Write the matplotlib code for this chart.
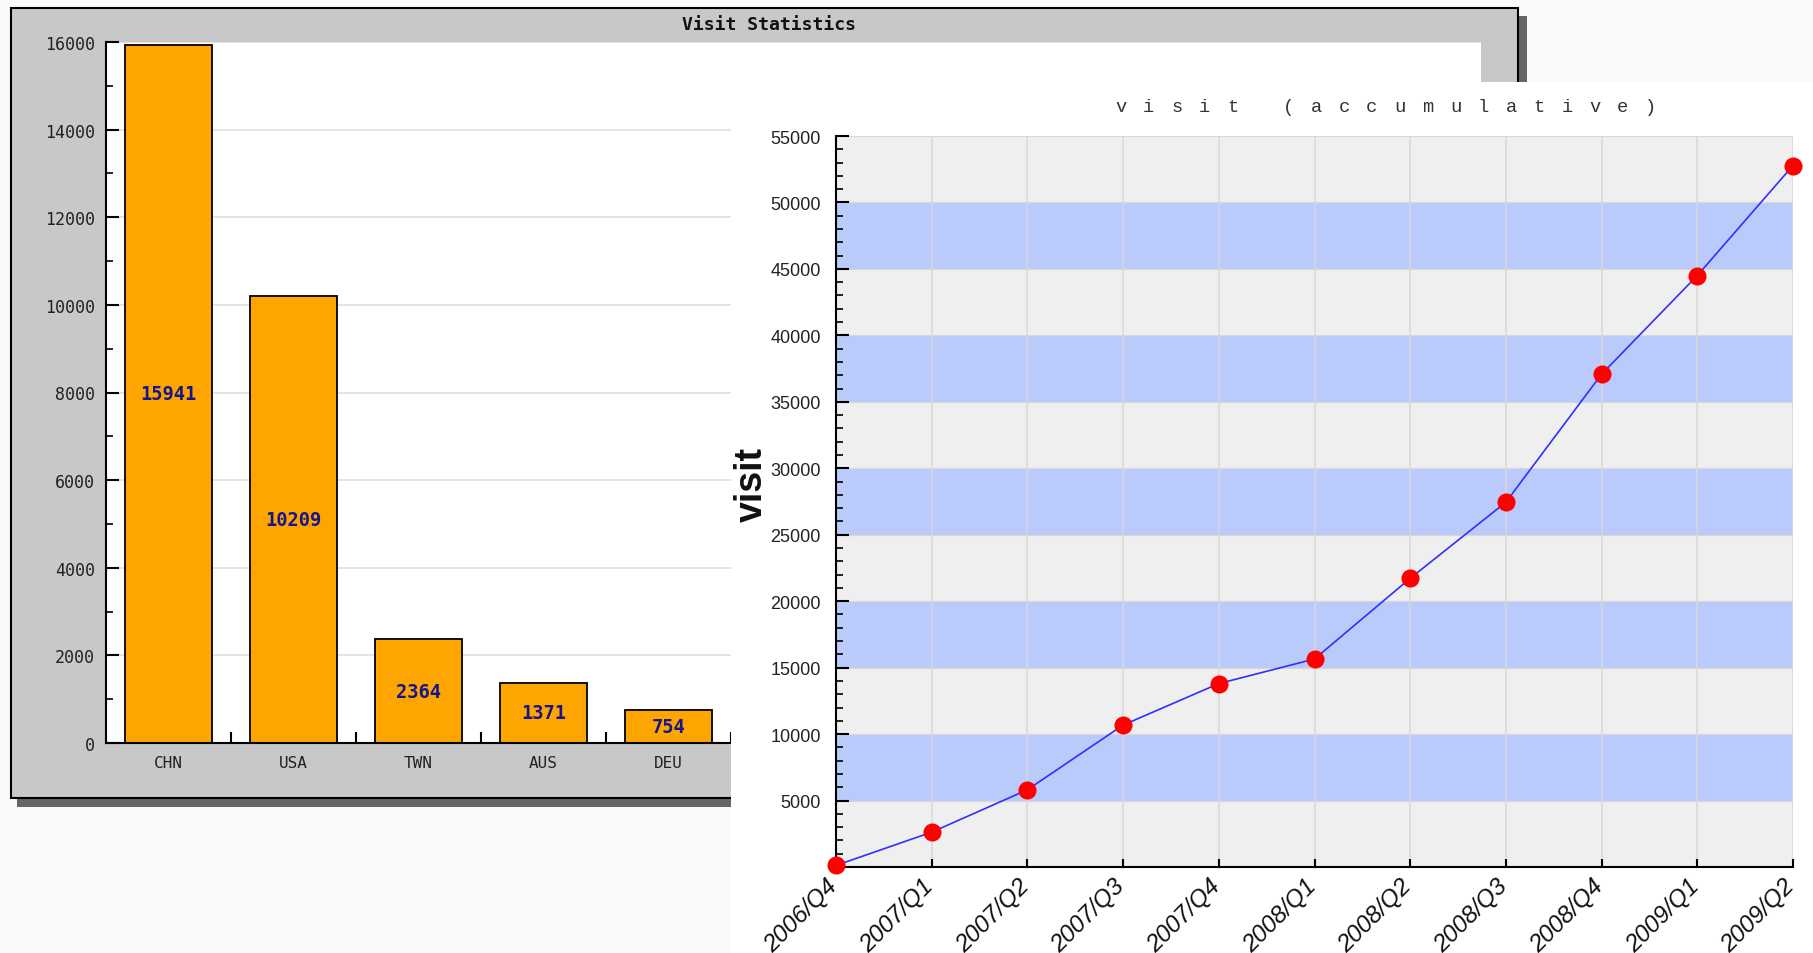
import numpy as np
import matplotlib.pyplot as plt
from matplotlib.patches import Rectangle
from matplotlib.ticker import MultipleLocator
from matplotlib.transforms import ScaledTranslation

# left chart: visits by country
countries = ["CHN", "USA", "TWN", "AUS", "DEU"]
country_visits = [15941, 10209, 2364, 1371, 754]

# right chart: accumulated visits by quarter
quarters = ["2006/Q4", "2007/Q1", "2007/Q2", "2007/Q3", "2007/Q4", "2008/Q1",
            "2008/Q2", "2008/Q3", "2008/Q4", "2009/Q1", "2009/Q2"]
accum_visits = [120, 2620, 5810, 10680, 13800, 15650,
                21720, 27450, 37080, 44500, 52780]

W, H = 1813, 954
MONO = "DejaVu Sans Mono"
SANS = "Liberation Sans"


def box(x0, y0, x1, y1):
    # pixel box (top-left origin) -> figure fraction rect
    return [x0 / W, 1 - y1 / H, (x1 - x0) / W, (y1 - y0) / H]


def rect(x0, y0, x1, y1, **kw):
    r = Rectangle((x0 / W, 1 - y1 / H), (x1 - x0) / W, (y1 - y0) / H,
                  transform=fig.transFigure, **kw)
    fig.add_artist(r)
    return r


fig = plt.figure(figsize=(W / 100, H / 100), dpi=100)
fig.patch.set_facecolor("#fafafa")

# ---- left chart frame ----
rect(17, 17, 1527, 808, fc="#666666", ec="none", zorder=0.1)
rect(11, 9, 1518, 799, fc="#c8c8c8", ec="black", lw=1.5, zorder=0.2)
fig.text(769 / W, 1 - 25 / H, "Visit Statistics", ha="center", va="center",
         fontsize=13, fontweight="bold", family=MONO, color="#111111", zorder=0.3)

ax1 = fig.add_axes(box(106, 43, 1481, 744))
ax1.set_zorder(1)
ax1.set_facecolor("white")
x = np.arange(len(countries))
ax1.bar(x, country_visits, width=0.7, color="#ffa500", edgecolor="black", lw=1.3, zorder=2)
for i, v in enumerate(country_visits):
    ax1.text(i, v / 2, str(v), ha="center", va="center", fontsize=13.5,
             fontweight="bold", family=MONO, color="#16168a", zorder=3)

ax1.set_xlim(-0.5, 10.5)
ax1.set_ylim(0, 16000)
ax1.set_xticks(np.arange(0.5, 10, 1))
ax1.set_xticklabels([])
ax1.set_xticks(x, minor=True)
ax1.set_xticklabels(countries, minor=True, fontsize=11.5, family=MONO, color="#222222")
ax1.tick_params(axis="x", which="major", direction="in", length=8, width=1.5)
ax1.tick_params(axis="x", which="minor", length=0, pad=9)
ax1.yaxis.set_major_locator(MultipleLocator(2000))
ax1.yaxis.set_minor_locator(MultipleLocator(1000))
ax1.tick_params(axis="y", which="major", direction="in", length=9, width=1.5, pad=8,
                labelsize=12, labelcolor="#222222")
ax1.tick_params(axis="y", which="minor", direction="in", length=5, width=1.2)
for lab in ax1.get_yticklabels():
    lab.set_family(MONO)
ax1.grid(axis="y", color="#e2e2e2", lw=1.3)
ax1.set_axisbelow(True)
for s in ["top", "right"]:
    ax1.spines[s].set_visible(False)
for s in ["left", "bottom"]:
    ax1.spines[s].set_linewidth(1.5)

# ---- right chart ----
rect(731, 83, W + 5, H + 5, fc="white", ec="none", zorder=2)

ax2 = fig.add_axes(box(836, 137, 1793, 868))
ax2.set_zorder(3)
ax2.set_facecolor("#efefef")
for lo in range(5000, 50000, 10000):
    ax2.axhspan(lo, lo + 5000, color="#bacbfb", lw=0, zorder=0)
for yv in range(5000, 55001, 5000):
    ax2.axhline(yv, color="#d8d8d8", lw=0.9, zorder=0.5)
xq = np.arange(len(quarters))
ax2.set_xlim(0, len(quarters) - 1)
ax2.set_ylim(0, 55000)
ax2.set_xticks(xq)
ax2.grid(axis="x", color="#d8d8d8", lw=1.1)
ax2.set_axisbelow(True)
ax2.plot(xq, accum_visits, color="#2f2fff", lw=1.2, zorder=4, clip_on=False)
ax2.plot(xq, accum_visits, "o", color="#ff0000", ms=13, mec="none", zorder=5, clip_on=False)

ax2.set_yticks(np.arange(5000, 55001, 5000))
ax2.yaxis.set_minor_locator(MultipleLocator(1000))
ax2.tick_params(axis="y", which="major", direction="in", length=9, width=1.5, pad=11,
                labelsize=13, labelcolor="#222222")
ax2.tick_params(axis="y", which="minor", direction="in", length=5, width=1.2)
ax2.tick_params(axis="x", which="major", direction="in", length=6, width=1.5, pad=5)
ax2.set_xticklabels(quarters, rotation=45, ha="right", va="top", rotation_mode="anchor",
                    fontsize=17.5, fontstyle="italic", family=SANS, color="#111111")
shift = ScaledTranslation(-10 / 100, 0, fig.dpi_scale_trans)
for lab in ax2.get_xticklabels():
    lab.set_transform(lab.get_transform() + shift)
for lab in ax2.get_yticklabels():
    lab.set_family(SANS)
for s in ["top", "right"]:
    ax2.spines[s].set_visible(False)
for s in ["left", "bottom"]:
    ax2.spines[s].set_linewidth(1.5)

fig.text(752 / W, 1 - 485 / H, "visit", rotation=90, ha="center", va="center",
         fontsize=27, fontweight="bold", family=SANS, color="#111111", zorder=4)

title = "visit (accumulative)"
pitch = 27.87
x0 = 1121
for k, ch in enumerate(title):
    fig.text((x0 + k * pitch) / W, 1 - 108 / H, ch, ha="center", va="center",
             fontsize=13.5, family="Liberation Mono", color="#333333", zorder=4)

fig.savefig("out.png", dpi=100, facecolor=fig.get_facecolor())
